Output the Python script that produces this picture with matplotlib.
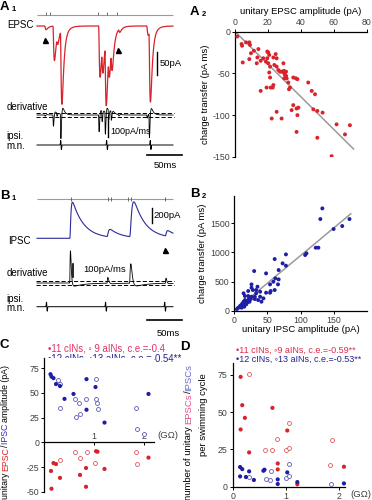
import numpy as np
import matplotlib
matplotlib.use('Agg')
import matplotlib.pyplot as plt

plt.rcParams['font.family'] = ['Liberation Sans', 'DejaVu Sans']
plt.rcParams['axes.unicode_minus'] = False
plt.rcParams['lines.scale_dashes'] = False
plt.rcParams['path.simplify'] = False
plt.rcParams['font.size'] = 6.7

W, H = 372, 500

# ---------------- data ----------------
# A1: unitary EPSC events (ms, pA)
a1_epsc_t = [10.7, 22.4, 27.5, 32.9, 86.7, 91.0, 95.5, 100.2, 104.0, 114.7, 154.5, 157.6]
a1_epsc_amp = [8, 74, 20, 160, 110, 65, 143, 60, 56, 8, 20, 154]
a1_event_marks = [12.4, 18.6, 85.3, 98.6, 112.9]
a1_arrow_t = [11.9, 114.7]
a1_arrow_y = [-30, -51]
a1_mn_t = [33.9, 98.6, 160.0]

# B1: unitary IPSC events (ms, pA)
b1_ipsc_t = [46.1, 98.6, 130.4, 180.7]
b1_ipsc_amp = [480, 100, 470, 75]
b1_ipsc_rise = [1.0, 1.2, 1.8, 1.0]
b1_event_marks = [48.1, 100.4, 104.3, 128.1, 132.9, 180.4]
b1_arrow_t = [180.4]
b1_arrow_y = [-160]
b1_mn_t = [13.9, 97.1, 180.4]

# A2: EPSC amplitude (pA) vs charge transfer (pA ms)
a2_amp = [1.4, 4.0, 4.3, 4.7, 6.7, 8.7, 9.1, 9.7, 8.7, 11.5,
          14.2, 13.6, 13.2, 15.6, 17.2, 18.8, 19.6, 20.2, 20.8, 19.6,
          20.2, 21.3, 20.8, 21.3, 21.7, 19.2, 15.6, 22.9, 23.3, 23.9,
          25.3, 24.7, 25.3, 23.3, 26.3, 27.3, 28.3, 29.4, 29.7, 29.9,
          30.4, 31.0, 31.0, 31.4, 29.9, 32.4, 32.8, 33.4, 35.4, 37.0,
          37.9, 35.4, 34.4, 37.4, 38.5, 37.9, 37.4, 25.3, 22.3, 28.3,
          44.5, 46.6, 48.6, 47.6, 50.0, 53.2, 50.0, 58.7, 61.7, 66.8,
          69.8]
a2_charge = [-6, -15, -17, -37, -13, -13, -16, -26, -33, -23,
             -21, -31, -38, -35, -32, -36, -24, -25, -28, -32,
             -38, -42, -49, -55, -67, -67, -71, -67, -64, -40,
             -42, -27, -32, -31, -46, -48, -48, -38, -47, -50,
             -52, -48, -53, -56, -56, -61, -69, -67, -55, -56,
             -57, -88, -94, -92, -91, -100, -120, -96, -104, -104,
             -61, -71, -75, -93, -95, -97, -127, -149, -111, -123,
             -112]
a2_fit_slope = -1.95          # slope of the grey line as drawn
a2_fit_range = [0, 72]
a2_eq = ['y= -19.5x', 'R\u00b2=0.955']

# B2: IPSC amplitude (pA) vs charge transfer (pA ms)
b2_amp = [133, 130, 174, 150, 163, 127, 123, 109, 107, 78,
          73, 78, 61, 67, 30, 48, 62, 67, 59, 66,
          54, 61, 55, 54, 48, 39, 33, 35, 26, 26,
          28, 33, 21, 14, 16, 21, 26, 31, 25, 31,
          36, 39, 16, 19, 20, 15, 11, 14, 9, 6,
          4, 11, 15, 18, 23, 41, 44, 8, 12, 17, 22]
b2_charge = [1757, 1574, 1574, 1403, 1454, 1082, 1082, 985, 956, 967,
             813, 773, 887, 698, 681, 641, 555, 538, 498, 452,
             452, 355, 338, 309, 309, 326, 298, 412, 452, 395,
             355, 355, 338, 298, 252, 252, 240, 240, 200, 200,
             183, 240, 183, 166, 143, 126, 97, 155, 86, 52,
             29, 52, 69, 109, 155, 155, 212, 60, 120, 140, 200]
b2_fit_slope = 9.46
b2_fit_range = [0, 176]
b2_eq = ['y = 9.46x', 'R\u00b2=0.916']

# C: input resistance (GOhm) vs unitary amplitude (pA)
c_cin_ipsc_x = [0.13, 0.15, 0.19, 0.24, 0.32, 0.41, 0.59, 0.85, 1.03, 0.85, 1.21, 2.09]
c_cin_ipsc_y = [69, 66.5, 65, 59, 57, 44, 49, 64, 56, 33, 20, 49]
c_ain_ipsc_x = [0.27, 0.31, 0.31, 0.62, 0.69, 0.64, 0.72, 0.84, 1.04, 1.03, 1.05, 1.07, 1.84, 1.85, 1.99]
c_ain_ipsc_y = [63, 59, 35, 44, 40, 26, 29, 44, 64, 44, 40, 34, 35, 13, 8]
c_cin_epsc_x = [0.15, 0.14, 0.19, 0.24, 0.32, 0.72, 0.84, 0.84, 1.04, 1.07, 1.21, 2.09]
c_cin_epsc_y = [-47, -29, -21, -22, -36, -33, -26, -45, -9, -9.5, -27, -15.5]
c_ain_epsc_x = [0.31, 0.62, 0.72, 0.85, 1.02, 1.84, 1.85]
c_ain_epsc_y = [-18, -10, -16, -9.5, -21, -9.5, -22]

# D: input resistance (GOhm) vs number of unitary PSCs per cycle
d_cin_epsc_x = [0.15, 0.18, 0.23, 0.15, 0.31, 0.75, 1.03, 0.85, 0.85, 1.22, 2.1]
d_cin_epsc_y = [73.7, 54.7, 46.2, 38.4, 23, 52.9, 37.7, 15.6, 11.6, 1.6, 13.4]
d_ain_epsc_x = [0.30, 1.06, 0.84, 0.61, 0.74, 1.0, 1.07, 1.87, 1.84]
d_ain_epsc_y = [75.4, 42.9, 31.9, 24.3, 24.3, 24.3, 25.7, 31.2, 14.7]
d_cin_ipsc_x = [0.14, 0.18, 0.14, 0.25, 0.31, 0.40, 0.58, 0.60, 0.85, 0.85, 1.03, 1.22, 2.1]
d_cin_ipsc_y = [13.2, 11.8, 6.9, 6.5, 10.3, 4.5, 10.7, 11.4, 4.9, 1.8, 9.6, 3.1, 2.2]
d_ain_ipsc_x = [0.72, 0.63, 0.70, 1.07, 1.0, 1.06, 1.85, 0.31]
d_ain_ipsc_y = [10.7, 5.1, 4.5, 15, 5.6, 7.1, 1.6, 6.7]

c_legend = ["\u202211 cINs, \u25e6 9 aINs, c.e.=-0.4", "\u202212 cINs, \u25e613 aINs, c.e.=-0.54**"]
d_legend = ["\u202211 cINs, \u25e69 aINs, c.e.=-0.59**", "\u202212 cINs, \u25e613 aINs, c.e.=-0.53**"]

# ---------------- colours ----------------
RED = '#d8232b'
BLUE = '#1e1ea6'
RED_OPEN = '#e2585e'
BLUE_OPEN = '#5a5ab8'
GRAY_T = '#404040'

fig = plt.figure(figsize=(W / 100, H / 100), dpi=100)


def px_axes(x0, y0, x1, y1):
    return fig.add_axes([x0 / W, 1 - y1 / H, (x1 - x0) / W, (y1 - y0) / H])


def ftext(x, y, s, **kw):
    return fig.text(x / W, 1 - y / H, s, **kw)


ov = fig.add_axes([0, 0, 1, 1])
ov.set_xlim(0, W)
ov.set_ylim(H, 0)
ov.axis('off')

MSPP = 50 / 35.5  # ms per pixel
T0PX = 37
T1PX = 173
dt = 0.1
t = np.arange(0, (T1PX - T0PX) * MSPP, dt)


def psc(times, amps, rises, td, n=3, slow_frac=0.0, td_slow=1.0):
    out = np.zeros_like(t)
    for ti, a, tr in zip(times, amps, rises):
        s = np.clip(t - ti, 0, None)
        k = (1 - np.exp(-s / tr)) ** n * ((1 - slow_frac) * np.exp(-s / td) + slow_frac * np.exp(-s / td_slow))
        k[t <= ti] = 0
        if k.max() > 0:
            k = k / k.max()
        out += a * k
    return out


def mn(times, amp=4.5, sigma=0.5):
    out = np.zeros_like(t)
    for ti in times:
        s = (t - ti) / sigma
        out += -amp * s * np.exp(-s ** 2 / 2) * np.exp(0.5)
    return out


def trace_axes(y_top, y_bot, base_px, upp):
    ax = px_axes(T0PX - 5, y_top, T1PX + 5, y_bot)
    ax.set_xlim(-5 * MSPP, (T1PX + 5 - T0PX) * MSPP)
    ax.set_ylim((base_px - y_bot) * upp, (base_px - y_top) * upp)
    ax.axis('off')
    return ax


def raster_axes(y_px, marks, tick_up, tick_dn):
    ax = px_axes(T0PX - 5, y_px - 5, T1PX + 5, y_px + 5)
    ax.set_xlim(-5 * MSPP, (T1PX + 5 - T0PX) * MSPP)
    ax.set_ylim(-5, 5)
    ax.axis('off')
    ax.hlines(0, t[0], t[-1], color='#9a9a9a', lw=0.8)
    ax.vlines(marks, -tick_dn, tick_up, color='#555555', lw=0.6)
    return ax


# ================= A1 =================
UPP_A1 = 50 / 23.3
epsc = -psc(a1_epsc_t, a1_epsc_amp, [1.0] * len(a1_epsc_t), td=2.5, slow_frac=0.08, td_slow=6)
ax = trace_axes(18, 108, 26, UPP_A1)
ax.plot(t, epsc, color=RED, lw=0.9, clip_on=False)
ax.plot(a1_arrow_t, a1_arrow_y, ls='none', marker='^', ms=3.6, color='black')
raster_axes(15, a1_event_marks, 3, 0)

UPP_A1D = 100 / 18.4
deriv = np.gradient(epsc, dt)
ax = trace_axes(98, 142, 115, UPP_A1D)
ax.plot(t, deriv, color='black', lw=0.6)
for lev in (9, -9):
    ax.axhline(lev, xmin=0.03, xmax=0.97, color='black', lw=0.7, ls=(0, (3, 1.5)))

ax = trace_axes(136, 154, 145, 1.0)
ax.plot(t, mn(a1_mn_t), color='black', lw=0.7)

ftext(7.3, 25, 'EPSC', va='center', fontsize=7)
ftext(6.7, 107, 'derivative', va='center', fontsize=7)
ftext(6.7, 136, 'ipsi.', va='center', fontsize=7)
ftext(6.7, 146, 'm.n.', va='center', fontsize=7)

ov.plot([157.3, 157.3], [51.7, 51.7 + 50 / UPP_A1], color='black', lw=1.0)
ov.text(159.5, 64, '50pA', va='center', fontsize=6.8)
ov.plot([108.3, 108.3], [118.3, 118.3 + 100 / UPP_A1D], color='black', lw=1.0)
ov.text(110.5, 131.5, '100pA/ms', va='center', fontsize=6.5)
ov.plot([146.7, 146.7 + 50 / MSPP], [155, 155], color='black', lw=1.2)
ov.text(165, 165.5, '50ms', va='center', ha='center', fontsize=6.8)

# ================= B1 =================
UPP_B1 = 200 / 15.0
ipsc = psc(b1_ipsc_t, b1_ipsc_amp, b1_ipsc_rise, td=16)
ax = trace_axes(195, 258, 238.3, UPP_B1)
ax.plot(t, ipsc, color='#2b2b9b', lw=0.8)
ax.plot(b1_arrow_t, b1_arrow_y, ls='none', marker='^', ms=3.6, color='black')
raster_axes(199, b1_event_marks, 2, 2)

UPP_B1D = 100 / 12.4
derivb = np.gradient(ipsc, dt)
ax = trace_axes(245, 294, 283, UPP_B1D)
ax.plot(t, derivb, color='black', lw=0.6)
for lev in (20, -20):
    ax.axhline(lev, xmin=0.03, xmax=0.97, color='black', lw=0.7, ls=(0, (3, 1.5)))

ax = trace_axes(297, 316, 306.7, 1.0)
ax.plot(t, mn(b1_mn_t), color='black', lw=0.7)

ftext(8.3, 241, 'IPSC', va='center', fontsize=7)
ftext(6.7, 272.5, 'derivative', va='center', fontsize=7)
ftext(6.7, 298.5, 'ipsi.', va='center', fontsize=7)
ftext(6.7, 308, 'm.n.', va='center', fontsize=7)

ov.plot([151.7, 151.7], [208, 208 + 200 / UPP_B1], color='black', lw=1.0)
ov.text(153.5, 216, '200pA', va='center', fontsize=6.8)
ov.plot([73.3, 73.3], [264.3, 264.3 + 100 / UPP_B1D], color='black', lw=1.2)
ov.text(83, 269.5, '100pA/ms', va='center', fontsize=6.8)
ov.plot([146.7, 146.7 + 50 / MSPP], [319.5, 319.5], color='black', lw=1.2)
ov.text(168, 333, '50ms', va='center', ha='center', fontsize=6.8)


def style_ticks(ax):
    ax.tick_params(labelsize=6.3, labelcolor=GRAY_T, length=2, width=0.7, pad=1.5)
    for sp in ax.spines.values():
        sp.set_linewidth(0.9)


# ================= A2 =================
ax = px_axes(235, 31.5, 366.7, 157)
ax.scatter(a2_amp, a2_charge, s=8, color=RED, edgecolors='none', zorder=3)
xf = np.array(a2_fit_range)
ax.plot(xf, a2_fit_slope * xf, color='#9a9a9a', lw=1.1, zorder=2)
ax.set_xlim(0, 80)
ax.set_ylim(-150, 0)
ax.set_xticks([0, 20, 40, 60, 80])
ax.set_yticks([0, -50, -100, -150])
ax.xaxis.set_ticks_position('top')
ax.xaxis.set_label_position('top')
ax.spines['right'].set_visible(False)
ax.spines['bottom'].set_visible(False)
style_ticks(ax)
ax.set_xlabel('unitary EPSC amplitude (pA)', fontsize=6.8, labelpad=2.5)
ax.set_ylabel('charge transfer (pA ms)', fontsize=6.8, labelpad=2)
ov.text(321.7, 42.7, a2_eq[0], va='center', fontsize=7)
ov.text(321.7, 52.5, a2_eq[1], va='center', fontsize=7)

# ================= B2 =================
ax = px_axes(234.3, 195.7, 366.7, 310.7)
ax.scatter(b2_amp, b2_charge, s=8, color=BLUE, edgecolors='none', zorder=3)
xf = np.array(b2_fit_range)
ax.plot(xf, b2_fit_slope * xf, color='#9a9a9a', lw=1.1, zorder=2)
ax.set_xlim(0, 200)
ax.set_ylim(0, 1975)
ax.set_xticks([0, 50, 100, 150])
ax.set_yticks([0, 500, 1000, 1500])
ax.spines['right'].set_visible(False)
ax.spines['top'].set_visible(False)
style_ticks(ax)
ax.set_xlabel('unitary IPSC amplitude (pA)', fontsize=6.8, labelpad=0.5)
ax.set_ylabel('charge transfer (pA ms)', fontsize=6.8, labelpad=2)
ov.text(366.7, 293.2, b2_eq[0], va='center', ha='right', fontsize=6.6)
ov.text(366.7, 302.3, b2_eq[1], va='center', ha='right', fontsize=6.6)


def scat(ax, x, y, col, opencol, filled):
    if filled:
        ax.scatter(x, y, s=9, color=col, edgecolors='none', zorder=3, clip_on=False)
    else:
        ax.scatter(x, y, s=8, facecolors='white', edgecolors=opencol, linewidths=0.6, zorder=3, clip_on=False)


# ================= C =================
ax = px_axes(44, 358.4, 154, 491.7)
scat(ax, c_ain_ipsc_x, c_ain_ipsc_y, BLUE, BLUE_OPEN, False)
scat(ax, c_cin_ipsc_x, c_cin_ipsc_y, BLUE, BLUE_OPEN, True)
scat(ax, c_ain_epsc_x, c_ain_epsc_y, RED, RED_OPEN, False)
scat(ax, c_cin_epsc_x, c_cin_epsc_y, RED, RED_OPEN, True)
ax.set_xlim(0, 2.2)
ax.set_ylim(-50, 85)
ax.spines['right'].set_visible(False)
ax.spines['bottom'].set_visible(False)
ax.spines['top'].set_position(('data', 0))
ax.xaxis.set_ticks_position('top')
ax.set_xticks([1, 2])
ax.set_yticks([75, 50, 25, 0, -25, -50])
style_ticks(ax)
ax.tick_params(axis='x', direction='in', pad=1)
ov.text(168, 435.5, '(G\u03a9)', va='center', ha='center', fontsize=6.8, color=GRAY_T)
ov.text(47.5, 348.3, c_legend[0], va='center', fontsize=6.9, color='#e23062')
ov.text(47.5, 358.3, c_legend[1], va='center', fontsize=6.9, color='#22228e')

# ================= D =================
ax = px_axes(232.7, 363, 345, 486.7)
scat(ax, d_ain_epsc_x, d_ain_epsc_y, RED, RED_OPEN, False)
scat(ax, d_cin_epsc_x, d_cin_epsc_y, RED, RED_OPEN, True)
scat(ax, d_ain_ipsc_x, d_ain_ipsc_y, BLUE, BLUE_OPEN, False)
scat(ax, d_cin_ipsc_x, d_cin_ipsc_y, BLUE, BLUE_OPEN, True)
ax.set_xlim(0, 2.12)
ax.set_ylim(0, 83)
ax.spines['right'].set_visible(False)
ax.spines['top'].set_visible(False)
ax.set_xticks([0, 1, 2])
ax.set_yticks([0, 25, 50, 75])
style_ticks(ax)
ov.text(361, 494.3, '(G\u03a9)', va='center', ha='center', fontsize=6.8, color=GRAY_T)
ov.text(236, 350, d_legend[0], va='center', fontsize=6.5, color='#e02a4a')
ov.text(236, 359, d_legend[1], va='center', fontsize=6.5, color='#22228e')

# ---------- multi-coloured rotated y labels ----------
renderer = fig.canvas.get_renderer()


def adv(s, fs):
    a = fig.text(0, 0, s + '|', fontsize=fs)
    b = fig.text(0, 0, '|', fontsize=fs)
    w = a.get_window_extent(renderer).width - b.get_window_extent(renderer).width
    a.remove()
    b.remove()
    return w


def vlabel(x, yc, pieces, fs):
    full = ''.join(p for p, _ in pieces)
    total = adv(full, fs)
    y0 = yc + total / 2
    pre = ''
    for s, col in pieces:
        off = adv(pre, fs) if pre else 0
        ftext(x, y0 - off, s, rotation=90, rotation_mode='anchor', ha='left', va='center',
              color=col, fontsize=fs)
        pre += s


vlabel(6, 432, [('unitary ', 'black'), ('EPSC', '#e02020'), ('/', 'black'),
                ('IPSC ', '#2a2ab0'), ('amplitude (pA)', 'black')], 6.3)
vlabel(188.5, 432, [('number of unitary ', 'black'), ('EPSCs', '#e0508a'), ('/', 'black'),
                    ('IPSCs', '#6a6ad0')], 6.8)
vlabel(204, 415, [('per swimming cycle', 'black')], 6.8)


# ---------- panel letters ----------
def letter(x, y, L, sub=None):
    ftext(x, y, L, fontsize=9.5, fontweight='bold', va='baseline')
    if sub:
        ftext(x + 11.5, y + 1.5, sub, fontsize=5.5, fontweight='bold', va='baseline')


letter(0, 9.5, 'A', '1')
letter(190, 15, 'A', '2')
letter(0, 199, 'B', '1')
letter(190, 197, 'B', '2')
letter(0, 348, 'C')
letter(180, 350, 'D')

fig.savefig('out.png', dpi=100)
